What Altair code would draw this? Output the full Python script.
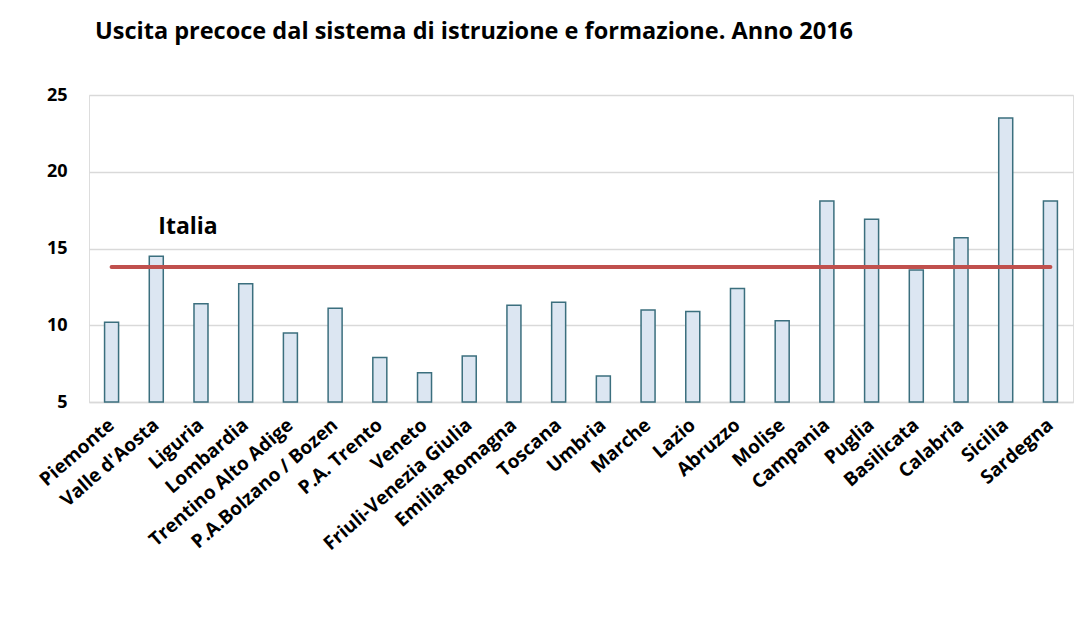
import altair as alt
import pandas as pd

regions = ["Piemonte", "Valle d'Aosta", "Liguria", "Lombardia", "Trentino Alto Adige",
           "P.A.Bolzano / Bozen", "P.A. Trento", "Veneto", "Friuli-Venezia Giulia",
           "Emilia-Romagna", "Toscana", "Umbria", "Marche", "Lazio", "Abruzzo", "Molise",
           "Campania", "Puglia", "Basilicata", "Calabria", "Sicilia", "Sardegna"]
values = [10.2, 14.5, 11.4, 12.7, 9.5, 11.1, 7.9, 6.9, 8.0, 11.3, 11.5,
          6.7, 11.0, 10.9, 12.4, 10.3, 18.1, 16.9, 13.6, 15.7, 23.5, 18.1]
italia_value = 13.8
italia_ends = [regions[0], regions[-1]]
label_text = "Italia"
label_region = "Valle d'Aosta"
label_y = 16.4
y_min = 5
y_ticks = [5, 10, 15, 20, 25]

df = pd.DataFrame({"regione": regions, "valore": values})
line_df = pd.DataFrame({"regione": italia_ends, "valore": [italia_value] * 2})
lab_df = pd.DataFrame({"regione": [label_region], "valore": [label_y], "t": [label_text]})

FONT = "Open Sans"

x_enc = alt.X("regione:N", sort=regions, title=None,
              scale=alt.Scale(paddingInner=0.69, paddingOuter=0.35),
              axis=alt.Axis(labelAngle=-41, labelAlign="right", labelBaseline="middle",
                            labelFontSize=19, labelFontWeight="bold", labelColor="#000000",
                            labelFont=FONT, labelPadding=20, ticks=False, labelLimit=400,
                            domainColor="#d9d9d9", domainWidth=1.5, labelOverlap=False))
y_scale = alt.Scale(domain=[5, 25], nice=False, zero=False)
y_axis = alt.Axis(values=y_ticks, labelFontSize=18, labelFontWeight="bold",
                  labelColor="#000000", labelFont=FONT, labelPadding=22, ticks=False,
                  domain=False, gridColor="#d9d9d9", gridWidth=1.3)

bars = alt.Chart(df).mark_bar(size=14, fill="#dce6f2", stroke="#3b6f7e",
                              strokeWidth=1.5).encode(
    x=x_enc,
    y=alt.Y("valore:Q", scale=y_scale, axis=y_axis, title=None),
    y2=alt.datum(y_min),
)

line = alt.Chart(line_df).mark_line(color="#c0504d", strokeWidth=4, strokeCap="round").encode(
    x=alt.X("regione:N", sort=regions),
    y=alt.Y("valore:Q", scale=y_scale),
)

label = alt.Chart(lab_df).mark_text(align="left", baseline="middle", dx=2,
                                    fontSize=23, fontWeight="bold", font=FONT,
                                    color="#000000").encode(
    x=alt.X("regione:N", sort=regions),
    y=alt.Y("valore:Q", scale=y_scale),
    text="t:N",
)

chart = alt.layer(bars, line, label).properties(
    width=984, height=307,
    title=alt.TitleParams("Uscita precoce dal sistema di istruzione e formazione. Anno 2016",
                          anchor="start", frame="group", dx=6, offset=43, fontSize=23.5,
                          fontWeight="bold", font=FONT, color="#000000"),
    autosize=alt.AutoSizeParams(type="none"),
    padding={"left": 81, "top": 87, "right": 3, "bottom": 200},
).configure_view(stroke=None).configure(background="#ffffff")

chart.save("out.html", embed_options={"renderer": "svg", "actions": False})
